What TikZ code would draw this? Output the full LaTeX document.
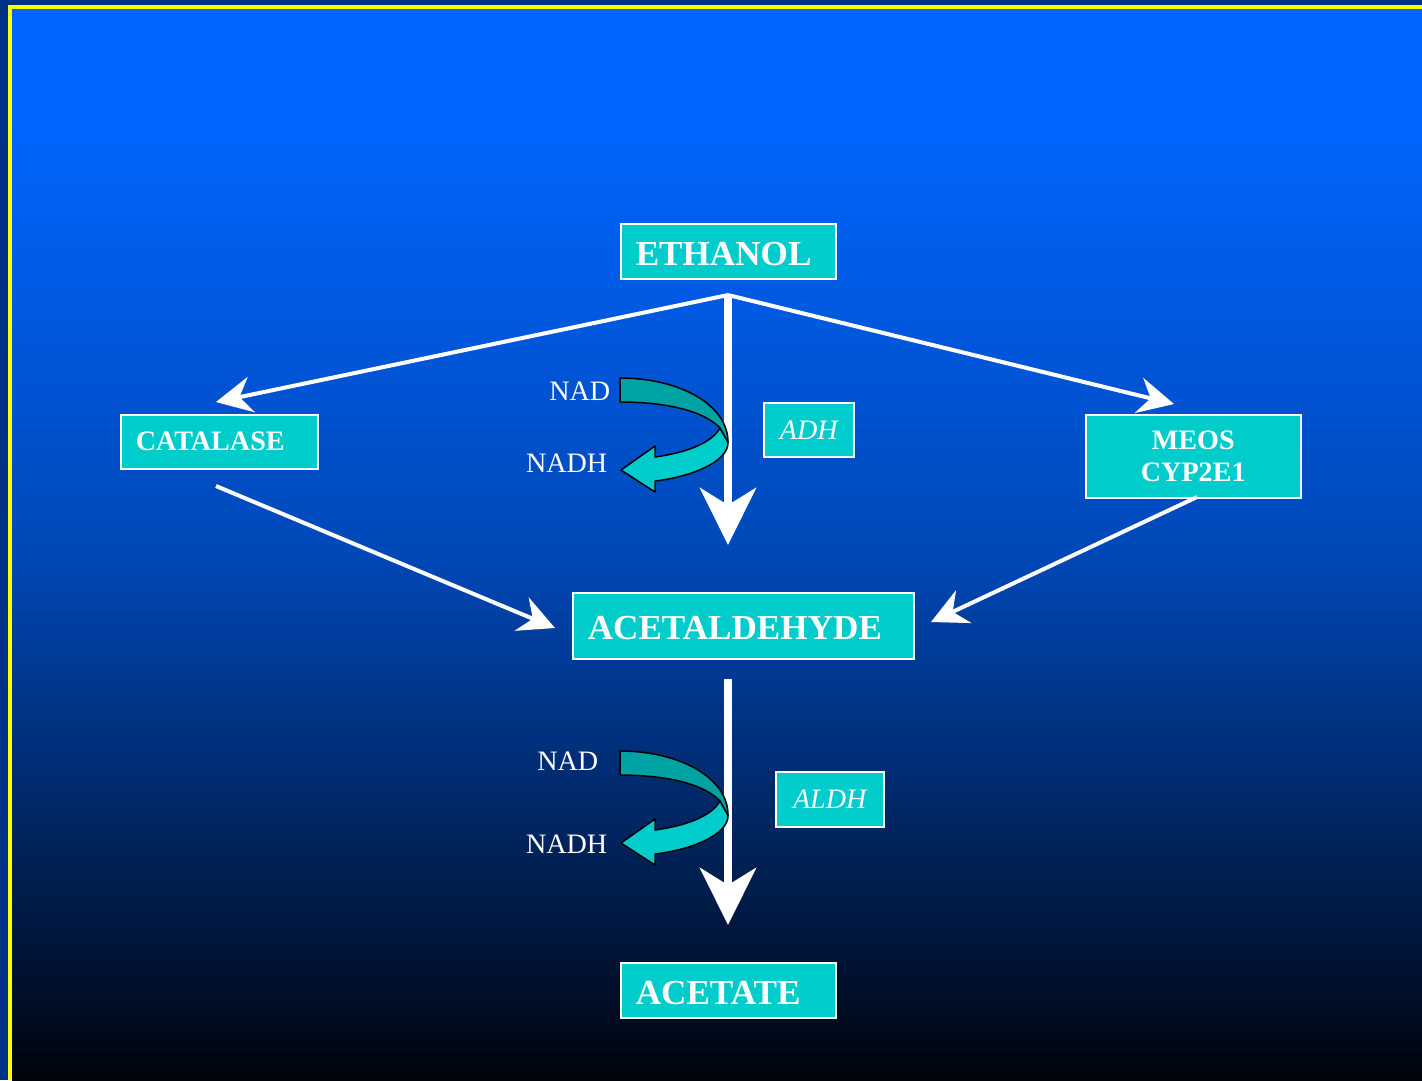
\documentclass[tikz,border=0pt]{standalone}
\usepackage{fontspec}
\setmainfont{Liberation Serif}
\usetikzlibrary{positioning, arrows.meta}

\definecolor{slideblue}{RGB}{0,102,255}
\definecolor{slidemid}{RGB}{0,72,184}
\definecolor{slidedeep}{RGB}{0,37,96}
\definecolor{slidebottom}{RGB}{0,3,10}
\definecolor{slideedge}{RGB}{0,51,136}
\definecolor{framegold}{RGB}{255,255,0}
\definecolor{boxcyan}{RGB}{0,204,204}
\definecolor{ribbondark}{RGB}{0,163,163}

\pgfdeclareverticalshading{slidebg}{100bp}{color(0bp)=(slidebottom); color(25bp)=(slidebottom); color(36.7bp)=(slidedeep); color(49.7bp)=(slidemid); color(69.8bp)=(slideblue); color(100bp)=(slideblue)}

\begin{document}
\begin{tikzpicture}[
    x=0.1mm, y=-0.1mm,
    box/.style={draw=white, line width=0.15mm, fill=boxcyan, text=white, anchor=north west, inner xsep=1.5mm, inner ysep=0pt, align=left},
    bigname/.style={box, text height=0.8em, text depth=0pt, font=\fontsize{10}{12}\selectfont\bfseries},
    smallname/.style={box, font=\fontsize{8}{9.2}\selectfont\bfseries},
    enzyme/.style={box, align=center, font=\fontsize{8}{9.6}\selectfont\itshape},
    cofactor/.style={text=white, anchor=east, inner sep=0pt, font=\fontsize{8}{9.6}\selectfont},
    thinarrow/.style={draw=white, line width=0.4mm, -{Stealth[length=3.6mm, width=3.6mm, inset=1.2mm]}},
    bigarrow/.style={draw=white, line width=0.85mm, -{Stealth[length=5.7mm, width=5.6mm, inset=1.7mm]}},
    ribbon/.style={draw=black, line width=0.15mm, line join=round}
]

  % slide background
  \useasboundingbox (0,0) rectangle (1422,1080);
  \fill[slideedge] (0,0) rectangle (1422,1080);
  \shade[shading=slidebg] (12,9) rectangle (1422,1080);
  \draw[framegold, line width=0.4mm] (10,1080) -- (10,7) -- (1422,7);

  % substances and enzymes
  \node[bigname, text width=18.5mm, minimum height=5.5mm] (ethanol) at (620,223) {ETHANOL};
  \node[smallname, text width=16.7mm, minimum height=5.4mm] (catalase) at (120,414) {CATALASE};
  \node[smallname, align=center, text width=18.5mm, minimum height=8.3mm] (meos) at (1085,414) {MEOS\\CYP2E1};
  \node[bigname, text width=31.1mm, minimum height=6.6mm] (acetal) at (572,592) {ACETALDEHYDE};
  \node[bigname, text width=18.5mm, minimum height=5.5mm] (acetate) at (620,962) {ACETATE};
  \node[enzyme, text width=6.0mm, minimum height=5.4mm] (adh) at (763,402) {ADH};
  \node[enzyme, text width=7.8mm, minimum height=5.5mm] (aldh) at (775,771) {ALDH};

  % cofactors
  \node[cofactor] (nad1) at (611,391) {NAD};
  \node[cofactor] (nadh1) at (608,463) {NADH};
  \node[cofactor] (nad2) at (599,761) {NAD};
  \node[cofactor] (nadh2) at (608,844) {NADH};

  % free ends of the side arrows
  \coordinate (split) at (728,295);
  \coordinate (catin) at (216,402);
  \coordinate (meosin) at (1174,404);
  \coordinate (catout) at (216,486);
  \coordinate (meosout) at (1197,497);
  \coordinate (acetalleft) at (555,628);
  \coordinate (acetalright) at (931,622);

  % main pathway
  \draw[bigarrow, shorten <=1.7mm, shorten >=4.7mm] (ethanol.south -| split) -- (acetal.north -| split);
  \draw[bigarrow, shorten <=1.9mm, shorten >=3.7mm] (acetal.south -| split) -- (acetate.north -| split);

  % side pathways
  \draw[thinarrow] (split) -- (catin);
  \draw[thinarrow] (split) -- (meosin);
  \draw[thinarrow] (catout) -- (acetalleft);
  \draw[thinarrow] (meosout) -- (acetalright);

  % NAD -> NADH ribbons
  \begin{scope}
    \draw[ribbon, fill=boxcyan] (720,428) -- (728,442) .. controls (729,462) and (690,477) .. (655,481) -- (655,492) -- (621,470) -- (655,446) -- (655,457) .. controls (690,452) and (712,442) .. (720,428) -- cycle;
    \draw[ribbon, fill=ribbondark] (620,378) .. controls (680,378) and (728,405) .. (728,442) -- (720,428) .. controls (705,412) and (670,402) .. (620,402) -- cycle;
  \end{scope}
  \begin{scope}[shift={(0,373)}]
    \draw[ribbon, fill=boxcyan] (720,428) -- (728,442) .. controls (729,462) and (690,477) .. (655,481) -- (655,492) -- (621,470) -- (655,446) -- (655,457) .. controls (690,452) and (712,442) .. (720,428) -- cycle;
    \draw[ribbon, fill=ribbondark] (620,378) .. controls (680,378) and (728,405) .. (728,442) -- (720,428) .. controls (705,412) and (670,402) .. (620,402) -- cycle;
  \end{scope}
\end{tikzpicture}
\end{document}
